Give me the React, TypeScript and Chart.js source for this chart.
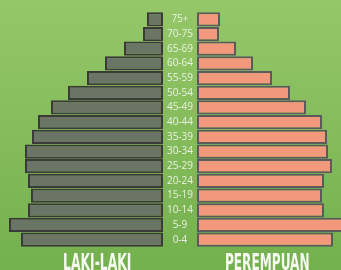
import React, { useEffect, useRef, useLayoutEffect } from "react";
import { Chart, registerables } from "chart.js";

Chart.register(...registerables);

const ageGroups = ["75+", "70-75", "65-69", "60-64", "55-59", "50-54", "45-49", "40-44", "35-39", "30-34", "25-29", "20-24", "15-19", "10-14", "5-9", "0-4"];
const maleValues = [16, 20, 39, 58, 76, 95, 112, 125, 131, 138, 138, 135, 132, 135, 154, 142];
const femaleValues = [23, 22, 39, 56, 75, 93, 109, 125, 130, 131, 135, 127, 125, 127, 150, 136];
const maleTitle = "LAKI-LAKI";
const femaleTitle = "PEREMPUAN";

const W = 341;
const H = 270;

function FitText({ text, center, width, top }: { text: string; center: number; width: number; top: number }) {
  const ref = useRef<HTMLSpanElement>(null);
  useLayoutEffect(() => {
    const el = ref.current;
    if (!el) return;
    el.style.transform = "none";
    const w = el.offsetWidth;
    const s = width / w;
    el.style.left = `${center - w / 2}px`;
    el.style.transform = `scaleX(${s})`;
  }, [text, center, width]);
  return (
    <span
      ref={ref}
      style={{
        position: "absolute",
        top,
        left: center,
        whiteSpace: "nowrap",
        fontFamily: "'DejaVu Sans Condensed', 'DejaVu Sans', sans-serif",
        fontWeight: "bold",
        fontSize: 23,
        lineHeight: 1,
        color: "#f6f9f0",
        transformOrigin: "center top",
      }}
    >
      {text}
    </span>
  );
}

export default function App() {
  const leftRef = useRef<HTMLCanvasElement>(null);
  const rightRef = useRef<HTMLCanvasElement>(null);

  useEffect(() => {
    const common = {
      indexAxis: "y" as const,
      responsive: false,
      maintainAspectRatio: false,
      animation: false as const,
      plugins: { legend: { display: false }, tooltip: { enabled: false }, title: { display: false } },
    };
    const left = new Chart(leftRef.current!, {
      type: "bar",
      data: {
        labels: ageGroups,
        datasets: [
          {
            data: maleValues,
            backgroundColor: "#6b7566",
            borderColor: "#3a3b39",
            borderWidth: 2,
            borderSkipped: false,
            categoryPercentage: 1,
            barPercentage: 0.97,
          },
        ],
      },
      options: {
        ...common,
        layout: { padding: { top: 12, bottom: 23, left: 0, right: 0 } },
        scales: {
          x: { display: false, reverse: true, min: 0, max: 163 },
          y: { display: false },
        },
      },
    });
    const right = new Chart(rightRef.current!, {
      type: "bar",
      data: {
        labels: ageGroups,
        datasets: [
          {
            data: femaleValues,
            backgroundColor: "#f2997b",
            borderColor: "#5b5b5b",
            borderWidth: 2,
            borderSkipped: false,
            categoryPercentage: 1,
            barPercentage: 0.97,
          },
        ],
      },
      options: {
        ...common,
        layout: { padding: { top: 12, bottom: 23, left: 0, right: 0 } },
        scales: {
          x: { display: false, min: 0, max: 144 },
          y: {
            position: "left",
            grid: { display: false, drawTicks: false },
            border: { display: false },
            ticks: {
              color: "#e9f1e1",
              font: { family: "'Open Sans', sans-serif", size: 10 },
              crossAlign: "center",
              padding: 4,
              autoSkip: false,
            },
            afterFit: (scale: any) => {
              scale.width = 34;
            },
          },
        },
      },
    });
    return () => {
      left.destroy();
      right.destroy();
    };
  }, []);

  return (
    <div
      style={{
        position: "fixed",
        left: 0,
        top: 0,
        width: W,
        height: H,
        overflow: "hidden",
        background: "linear-gradient(#95c768, #74b04e)",
      }}
    >
      <canvas ref={leftRef} width={163} height={H} style={{ position: "absolute", left: 0, top: 0, width: 163, height: H }} />
      <canvas ref={rightRef} width={178} height={H} style={{ position: "absolute", left: 163, top: 0, width: 178, height: H }} />
      <FitText text={maleTitle} center={97} width={68} top={251} />
      <FitText text={femaleTitle} center={267.5} width={85} top={251} />
    </div>
  );
}
